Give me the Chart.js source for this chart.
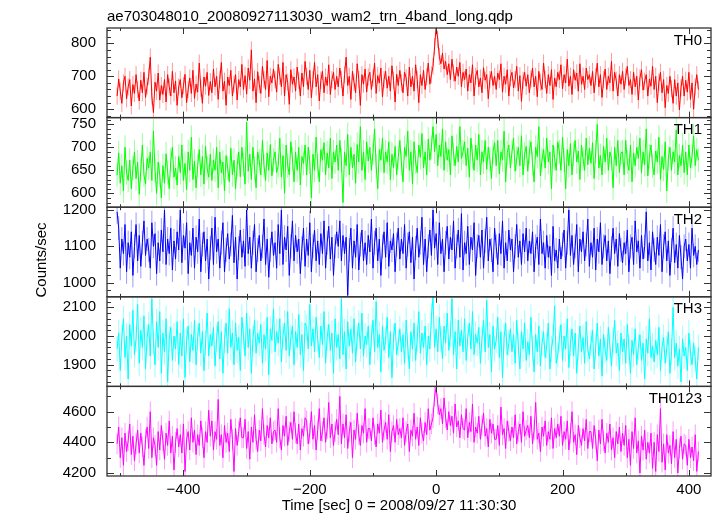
<!DOCTYPE html>
<html>
<head>
<meta charset="utf-8">
<script src="https://cdn.jsdelivr.net/npm/chart.js@4.4.1/dist/chart.umd.min.js"></script>
<style>
  html, body { margin: 0; padding: 0; background: #fff; }
  #wrap { width: 717px; height: 516px; position: relative; }
</style>
</head>
<body>
<div id="wrap"><canvas id="lc"></canvas></div>
<script>
// QDP-style 4-band light curve, stacked panels sharing one time axis

const fileTitle = "ae703048010_20080927113030_wam2_trn_4band_long.qdp";
const xTitle = "Time [sec] 0 = 2008/09/27 11:30:30";
const yTitle = "Counts/sec";

const panelNames = ["TH0", "TH1", "TH2", "TH3", "TH0123"];
const panelColors = ["#ff0000", "#00ff00", "#0000ff", "#00ffff", "#ff00ff"];
const errColors = ["rgba(255,0,0,0.4)", "rgba(0,255,0,0.4)", "rgba(0,0,255,0.4)",
                   "rgba(0,255,255,0.4)", "rgba(255,0,255,0.4)"];

// time bins (sec), start and width
const binStart = -505;
const binWidth = 2.5;

// counts/sec per bin (one row = 50 s)
const th0 = [
  640, 692, 655, 618, 680, 700, 632, 668, 690, 610, 675, 648, 705, 660, 625, 688, 650, 712, 636, 670,
  700, 758, 640, 590, 682, 655, 710, 628, 672, 645, 690, 622, 705, 668, 640, 715, 650, 686, 612, 668,
  690, 635, 672, 706, 620, 660, 695, 648, 718, 633, 676, 652, 740, 664, 618, 698, 670, 712, 642, 684,
  650, 722, 668, 700, 630, 690, 742, 655, 685, 612, 698, 672, 718, 640, 676, 705, 628, 690, 668, 736,
  660, 702, 646, 725, 688, 780, 655, 692, 620, 714, 675, 648, 730, 690, 660, 748, 638, 700, 680, 722,
  690, 652, 736, 700, 668, 742, 640, 705, 682, 615, 720, 676, 698, 655, 728, 688, 640, 710, 668, 745,
  700, 660, 718, 635, 690, 742, 668, 705, 625, 688, 715, 650, 698, 672, 735, 645, 690, 712, 660, 700,
  668, 725, 690, 640, 705, 758, 672, 700, 630, 715, 682, 650, 738, 690, 612, 705, 676, 722, 652, 698,
  712, 660, 695, 740, 648, 702, 680, 725, 638, 690, 715, 664, 700, 655, 732, 688, 622, 706, 672, 718,
  680, 650, 712, 695, 640, 728, 668, 700, 655, 735, 690, 620, 705, 672, 718, 660, 698, 740, 676, 705,
  730, 790, 850, 812, 760, 738, 770, 722, 745, 705, 738, 690, 752, 710, 685, 728, 700, 742, 668, 712,
  690, 722, 655, 705, 680, 735, 640, 700, 718, 668, 695, 650, 726, 688, 705, 632, 690, 715, 672, 700,
  660, 710, 690, 738, 652, 700, 676, 720, 640, 695, 712, 665, 690, 730, 655, 702, 624, 688, 712, 670,
  705, 650, 692, 725, 668, 700, 638, 715, 682, 660, 740, 690, 648, 705, 672, 720, 630, 695, 668, 712,
  690, 735, 662, 705, 680, 752, 670, 700, 645, 720, 688, 710, 655, 738, 676, 700, 660, 725, 690, 705,
  672, 715, 650, 698, 740, 668, 705, 636, 690, 722, 660, 700, 680, 745, 655, 712, 688, 640, 705, 676,
  715, 660, 698, 730, 672, 690, 645, 712, 668, 700, 628, 695, 720, 658, 685, 705, 640, 692, 670, 730,
  660, 700, 620, 682, 712, 650, 690, 605, 672, 648, 700, 662, 618, 690, 640, 680, 598, 665, 700, 640,
  688, 652, 712, 630, 680, 600, 668, 705, 660
];
const th1 = [
  640, 688, 622, 660, 605, 700, 645, 628, 672, 610, 655, 690, 632, 668, 598, 650, 705, 640, 620, 676,
  655, 690, 628, 735, 650, 600, 668, 640, 590, 660, 622, 686, 645, 610, 672, 700, 635, 655, 618, 680,
  645, 705, 628, 665, 608, 690, 650, 722, 630, 670, 612, 660, 695, 640, 680, 620, 702, 655, 635, 685,
  628, 672, 650, 700, 612, 690, 645, 668, 605, 682, 655, 625, 698, 640, 672, 610, 660, 690, 636, 700,
  662, 620, 755, 648, 685, 630, 700, 655, 612, 690, 670, 640, 715, 660, 628, 688, 650, 706, 638, 672,
  690, 645, 660, 720, 635, 682, 600, 705, 660, 640, 712, 675, 625, 690, 650, 700, 618, 680, 665, 705,
  640, 700, 668, 590, 685, 650, 722, 660, 625, 695, 672, 710, 640, 688, 655, 720, 632, 690, 668, 705,
  650, 715, 672, 580, 690, 660, 728, 640, 700, 655, 685, 622, 706, 668, 745, 650, 690, 630, 712, 670,
  700, 650, 688, 740, 660, 610, 695, 672, 720, 645, 690, 668, 712, 630, 685, 655, 702, 640, 678, 715,
  665, 625, 700, 680, 735, 650, 690, 620, 712, 668, 645, 705, 678, 730, 655, 690, 640, 718, 672, 700,
  745, 690, 728, 660, 705, 680, 740, 650, 712, 672, 695, 640, 725, 685, 660, 702, 668, 745, 676, 690,
  712, 660, 698, 635, 720, 680, 650, 705, 672, 728, 640, 690, 668, 715, 652, 700, 675, 632, 690, 710,
  660, 715, 642, 690, 672, 735, 625, 688, 705, 655, 690, 720, 648, 676, 700, 660, 725, 640, 685, 702,
  648, 690, 712, 665, 625, 700, 680, 745, 638, 672, 695, 655, 720, 668, 690, 610, 705, 676, 650, 712,
  690, 650, 722, 672, 610, 695, 660, 708, 640, 685, 715, 668, 692, 630, 705, 675, 650, 720, 662, 698,
  665, 710, 632, 690, 750, 655, 682, 640, 702, 668, 720, 650, 690, 676, 612, 700, 660, 715, 645, 688,
  690, 640, 715, 668, 650, 705, 625, 688, 660, 700, 676, 720, 645, 690, 662, 740, 638, 680, 705, 660,
  640, 692, 668, 722, 630, 680, 652, 712, 605, 676, 700, 650, 690, 668, 738, 640, 682, 660, 705, 645,
  690, 640, 705, 655, 680, 725, 660, 695, 672
];
const th2 = [
  1195, 1150, 1040, 1120, 1080, 1160, 1030, 1110, 1070, 1140, 1020, 1100, 1160, 1060, 1130, 1045, 1110, 1170, 1075, 1120,
  1090, 1040, 1165, 1100, 1135, 1025, 1110, 1060, 1145, 1085, 1200, 1050, 1120, 1080, 1150, 1035, 1115, 1065, 1140, 1090,
  1200, 1055, 1130, 1095, 1165, 1025, 1110, 1075, 1150, 1040, 1125, 1085, 1175, 1030, 1105, 1140, 1060, 1120, 1010, 1095,
  1150, 1050, 1180, 1085, 1120, 1040, 1110, 1165, 1030, 1090, 1135, 1065, 1105, 1185, 1055, 1125, 1010, 1095, 1145, 1070,
  1115, 1045, 1200, 1080, 1125, 1040, 1110, 1160, 1030, 1090, 1130, 1060, 1100, 1175, 1050, 1120, 1015, 1090, 1140, 1075,
  1110, 1040, 1160, 1080, 1200, 1050, 1125, 1090, 1155, 1020, 1100, 1170, 1060, 1130, 1085, 1120, 1025, 1095, 1150, 1045,
  1120, 1075, 1165, 1030, 1100, 1145, 1060, 1115, 1050, 1135, 1080, 1170, 1040, 1110, 1155, 1065, 1125, 1020, 1100, 1140,
  1100, 1170, 1060, 1130, 1080, 1125, 965, 1090, 1150, 1040, 1115, 1070, 1160, 1035, 1105, 1145, 1060, 1110, 1050, 1130,
  1085, 1175, 1040, 1110, 1150, 1060, 1120, 1020, 1100, 1140, 1070, 1165, 1045, 1115, 1090, 1135, 1030, 1105, 1150, 1065,
  1120, 1080, 1160, 1040, 1105, 1140, 1055, 1125, 1010, 1095, 1150, 1070, 1110, 1180, 1050, 1120, 1030, 1100, 1145, 1075,
  1200, 1095, 1135, 1050, 1165, 1080, 1120, 1030, 1110, 1155, 1065, 1125, 1090, 1170, 1040, 1100, 1145, 1070, 1190, 1035,
  1110, 1080, 1155, 1050, 1125, 1090, 1165, 1020, 1100, 1130, 1070, 1145, 1040, 1115, 1180, 1060, 1120, 1090, 1030, 1150,
  1100, 1050, 1135, 1080, 1170, 1040, 1110, 1060, 1145, 1090, 1120, 1030, 1100, 1160, 1070, 1115, 1050, 1135, 1085, 1150,
  1060, 1115, 1080, 1140, 1030, 1100, 1125, 1050, 1175, 1080, 1110, 1040, 1130, 1070, 1100, 1020, 1155, 1060, 1090, 1040,
  1120, 1065, 1105, 1145, 1040, 1110, 1200, 1075, 1130, 1050, 1100, 1160, 1030, 1120, 1085, 1140, 1060, 1105, 1175, 1045,
  1110, 1070, 1150, 1035, 1120, 1085, 1165, 1050, 1100, 1130, 1060, 1115, 1025, 1095, 1150, 1080, 1120, 1045, 1135, 1090,
  1055, 1110, 1080, 1145, 1030, 1100, 1125, 1050, 1170, 1085, 1115, 1040, 1130, 1065, 1100, 1195, 1060, 1110, 1035, 1140,
  1090, 1050, 1125, 1075, 1160, 1030, 1100, 1140, 1060, 1115, 1020, 1090, 1150, 1055, 1105, 1040, 1130, 1070, 1010, 1100,
  1120, 1060, 1105, 1040, 1150, 1075, 1100, 1050, 1090
];
const th3 = [
  1955, 2010, 1880, 1995, 2060, 1925, 2000, 1850, 2040, 1965, 2090, 1935, 1990, 2110, 1905, 2020, 1960, 2070, 1885, 1995,
  2040, 1930, 2130, 1980, 1900, 2050, 1960, 2085, 1870, 2010, 1945, 2060, 1840, 1990, 2030, 1915, 2000, 1955, 2050, 1900,
  2010, 1930, 2060, 1855, 1985, 2035, 1910, 2005, 1950, 2055, 1900, 1995, 2045, 1940, 2015, 1880, 1975, 2080, 1930, 2005,
  1965, 2030, 1895, 1990, 2050, 1920, 2015, 1870, 1985, 2045, 1940, 2095, 1960, 2010, 1900, 2045, 1950, 1995, 1880, 2065,
  2000, 1930, 2080, 1960, 2025, 1870, 1990, 2055, 1940, 2010, 1975, 2040, 1905, 2005, 1955, 2065, 1865, 2025, 1985, 2095,
  1945, 2015, 1975, 2060, 1910, 2000, 2045, 1950, 2085, 1930, 1995, 2035, 1900, 2015, 1960, 2075, 1935, 2005, 1880, 2045,
  2030, 1955, 2110, 1965, 2025, 1945, 2065, 1990, 1925, 2035, 1970, 2085, 1905, 1995, 2040, 1950, 2010, 1870, 2060, 1960,
  2005, 1920, 2130, 1935, 2015, 1885, 2050, 1965, 2025, 1940, 2060, 1910, 1995, 2045, 1955, 2080, 1930, 2000, 1970, 2035,
  1900, 1995, 2055, 1945, 2120, 1960, 2005, 1875, 2035, 1950, 1985, 2065, 1925, 2015, 1855, 1995, 2045, 1935, 1975, 2025,
  1945, 2005, 1905, 2055, 1965, 1885, 2015, 1955, 2045, 1915, 1990, 2085, 1940, 2010, 1960, 2035, 1900, 2000, 1955, 2070,
  2135, 1960, 2025, 1945, 2065, 1990, 1920, 2035, 1975, 2080, 1950, 2005, 2130, 1935, 2015, 1885, 2055, 1965, 2020, 1945,
  2060, 1915, 1995, 2045, 1955, 2085, 1935, 2005, 1975, 2030, 1905, 1990, 2055, 1945, 2125, 1960, 2005, 1875, 2035, 1955,
  1985, 2065, 1925, 2015, 1855, 1995, 2045, 1935, 1975, 2025, 1945, 2005, 1905, 2055, 1965, 1885, 2015, 1955, 2045, 1915,
  1980, 1935, 2065, 1955, 1875, 2005, 1945, 2035, 1895, 1975, 2015, 1925, 1965, 2045, 1885, 1955, 1995, 2105, 1905, 1935,
  1990, 2040, 1915, 2000, 1955, 2060, 1890, 1975, 2025, 1930, 2010, 1870, 1960, 2035, 1945, 1995, 1905, 2050, 1955, 1920,
  1975, 2020, 1885, 1960, 2045, 1930, 1990, 1860, 2005, 1950, 1915, 2030, 1965, 1895, 1985, 2055, 1940, 1975, 1880, 2010,
  1945, 1990, 1905, 2040, 1960, 1870, 1985, 1935, 2025, 1900, 1960, 2005, 1915, 1975, 1850, 1990, 1940, 2060, 1925, 1965,
  1910, 1985, 1935, 2030, 1880, 1960, 1995, 1905, 1955, 2015, 1870, 1945, 2100, 1925, 1975, 1895, 1955, 1840, 1990, 1930,
  1960, 1880, 2010, 1940, 1900, 1975, 1920, 1850, 1960
];
const th0123 = [
  4390, 4500, 4300, 4430, 4250, 4460, 4340, 4410, 4520, 4320, 4440, 4280, 4390, 4480, 4330, 4460, 4370, 4250, 4420, 4500,
  4360, 4600, 4300, 4430, 4380, 4250, 4470, 4350, 4510, 4410, 4290, 4460, 4380, 4540, 4330, 4440, 4220, 4400, 4490, 4370,
  4450, 4330, 4520, 4210, 4420, 4470, 4350, 4560, 4400, 4480, 4320, 4450, 4380, 4540, 4430, 4300, 4470, 4400, 4610, 4440,
  4540, 4350, 4470, 4420, 4680, 4380, 4450, 4300, 4510, 4400, 4460, 4340, 4550, 4420, 4210, 4490, 4380, 4470, 4560, 4430,
  4430, 4550, 4360, 4470, 4290, 4500, 4400, 4580, 4420, 4340, 4480, 4410, 4620, 4450, 4370, 4510, 4430, 4560, 4390, 4470,
  4480, 4400, 4620, 4430, 4350, 4510, 4440, 4570, 4380, 4470, 4530, 4420, 4600, 4460, 4390, 4520, 4350, 4490, 4440, 4560,
  4540, 4390, 4460, 4600, 4420, 4510, 4350, 4480, 4620, 4410, 4470, 4560, 4400, 4490, 4660, 4430, 4520, 4380, 4470, 4550,
  4450, 4700, 4390, 4520, 4430, 4580, 4360, 4470, 4530, 4300, 4480, 4420, 4590, 4450, 4380, 4510, 4460, 4620, 4400, 4490,
  4490, 4410, 4560, 4450, 4370, 4520, 4460, 4610, 4400, 4480, 4530, 4420, 4580, 4340, 4470, 4510, 4400, 4550, 4450, 4490,
  4430, 4560, 4380, 4470, 4520, 4340, 4480, 4440, 4590, 4420, 4500, 4380, 4560, 4460, 4410, 4530, 4450, 4620, 4480, 4520,
  4560, 4700, 4760, 4650, 4580, 4620, 4520, 4690, 4560, 4480, 4600, 4510, 4570, 4460, 4650, 4500, 4540, 4430, 4580, 4490,
  4480, 4620, 4430, 4530, 4470, 4650, 4400, 4500, 4460, 4570, 4420, 4510, 4590, 4440, 4490, 4370, 4550, 4460, 4520, 4420,
  4420, 4510, 4380, 4630, 4450, 4490, 4360, 4540, 4470, 4410, 4500, 4430, 4580, 4390, 4470, 4520, 4400, 4600, 4440, 4480,
  4510, 4430, 4570, 4390, 4480, 4660, 4420, 4460, 4340, 4500, 4440, 4540, 4380, 4470, 4420, 4560, 4360, 4490, 4430, 4520,
  4440, 4570, 4380, 4470, 4420, 4540, 4350, 4460, 4600, 4400, 4450, 4320, 4510, 4430, 4380, 4490, 4410, 4550, 4360, 4470,
  4470, 4360, 4510, 4420, 4280, 4480, 4390, 4550, 4410, 4330, 4460, 4400, 4520, 4350, 4430, 4300, 4470, 4390, 4500, 4340,
  4460, 4380, 4510, 4300, 4420, 4250, 4470, 4360, 4560, 4330, 4410, 4200, 4440, 4350, 4480, 4290, 4400, 4330, 4460, 4230,
  4400, 4210, 4450, 4340, 4620, 4270, 4390, 4220, 4450, 4330, 4380, 4260, 4470, 4300, 4420, 4200, 4360, 4440, 4290, 4390,
  4380, 4250, 4420, 4300, 4370, 4280, 4450, 4210, 4340
];
const panelSeries = [th0, th1, th2, th3, th0123];

// 1-sigma error per panel (counts/sec)
const panelErrors = [26, 26, 33, 45, 67];

// axis ranges and tick marks
const xMin = -521;
const xMax = 435;
const xLabelTicks = [-400, -200, 0, 200, 400];
const xTickStep = 100;
const yMin = [574.8, 569.8, 961.2, 1824.4, 4180.4];
const yMax = [846.4, 764.6, 1207.7, 2136.6, 4765];
const yTicks = [
  [600, 700, 800],
  [600, 650, 700, 750],
  [1000, 1100, 1200],
  [1900, 2000, 2100],
  [4200, 4400, 4600],
];
const yMinorStep = [20, 10, 20, 20, 100];

const FONT = "'Liberation Sans', Arial, Helvetica, sans-serif";
const INK = "#000";
const FRAME = "#333";

const datasets = panelSeries.map((vals, i) => ({
  label: panelNames[i],
  data: vals.map((v, k) => ({ x: binStart + k * binWidth, y: v })),
  yAxisID: "y" + i,
  borderColor: panelColors[i],
  borderWidth: 1,
  pointRadius: 0,
  fill: false,
  tension: 0,
}));

const scales = {
  x: {
    type: "linear",
    min: xMin,
    max: xMax,
    grid: { display: false, drawTicks: false },
    border: { display: false },
    afterBuildTicks: (s) => { s.ticks = xLabelTicks.map((v) => ({ value: v })); },
    afterFit: (s) => { s.height = 40; },
    ticks: {
      color: INK,
      padding: 5,
      font: { family: FONT, size: 15 },
      maxRotation: 0,
      autoSkip: false,
      callback: (v) => (v < 0 ? "\u2212" + Math.abs(v) : String(v)),
    },
  },
};
panelNames.forEach((name, i) => {
  scales["y" + i] = {
    type: "linear",
    position: "left",
    stack: "panels",
    stackWeight: 1,
    weight: 10 - i,
    min: yMin[i],
    max: yMax[i],
    offset: false,
    grid: { display: false, drawTicks: false },
    border: { display: false },
    afterBuildTicks: (s) => { s.ticks = yTicks[i].map((v) => ({ value: v })); },
    afterFit: (s) => { s.width = 107; },
    ticks: {
      color: INK,
      padding: 11,
      autoSkip: false,
      font: { family: FONT, size: 15 },
      callback: (v) => String(v),
    },
  };
});

function drawTick(ctx, x1, y1, x2, y2) {
  ctx.moveTo(x1, y1);
  ctx.lineTo(x2, y2);
}

const qdpPlugin = {
  id: "qdpPanels",
  beforeDatasetsDraw(chart) {
    const { ctx } = chart;
    const xs = chart.scales.x;
    chart.data.datasets.forEach((ds, i) => {
      const ys = chart.scales["y" + i];
      const err = panelErrors[i];
      ctx.save();
      ctx.beginPath();
      ctx.rect(xs.left, ys.top, xs.width, ys.height);
      ctx.clip();
      ctx.strokeStyle = errColors[i];
      ctx.lineWidth = 1;
      ctx.beginPath();
      ds.data.forEach((p) => {
        const px = xs.getPixelForValue(p.x);
        ctx.moveTo(px, ys.getPixelForValue(p.y - err));
        ctx.lineTo(px, ys.getPixelForValue(p.y + err));
      });
      ctx.stroke();
      ctx.restore();
    });
  },
  afterDatasetsDraw(chart) {
    const { ctx } = chart;
    const xs = chart.scales.x;
    ctx.save();
    ctx.strokeStyle = FRAME;
    ctx.lineWidth = 1;
    ctx.beginPath();
    panelNames.forEach((name, i) => {
      const ys = chart.scales["y" + i];
      const top = ys.top, bot = ys.bottom;
      // y ticks, left and right, pointing inward
      const step = yMinorStep[i];
      for (let v = Math.ceil(yMin[i] / step) * step; v <= yMax[i]; v += step) {
        const py = Math.round(ys.getPixelForValue(v)) + 0.5;
        const len = yTicks[i].includes(v) ? 7 : 4;
        drawTick(ctx, xs.left, py, xs.left + len, py);
        drawTick(ctx, xs.right, py, xs.right - len, py);
      }
      // time ticks, top and bottom of each panel
      for (let t = Math.ceil(xMin / xTickStep) * xTickStep; t <= xMax; t += xTickStep) {
        const px = Math.round(xs.getPixelForValue(t)) + 0.5;
        const len = t % 200 === 0 ? 6 : 3;
        drawTick(ctx, px, top, px, top + len);
        drawTick(ctx, px, bot, px, bot - len);
      }
    });
    ctx.stroke();

    // panel frames
    ctx.lineWidth = 1.3;
    panelNames.forEach((name, i) => {
      const ys = chart.scales["y" + i];
      ctx.strokeRect(xs.left, ys.top, xs.right - xs.left, ys.bottom - ys.top);
    });

    // band labels
    ctx.fillStyle = INK;
    ctx.font = "15px " + FONT;
    ctx.textAlign = "right";
    ctx.textBaseline = "alphabetic";
    panelNames.forEach((name, i) => {
      const ys = chart.scales["y" + i];
      ctx.fillText(name, xs.right - 9, ys.top + 16.5);
    });

    // file title
    ctx.textAlign = "left";
    ctx.fillText(fileTitle, xs.left, 20.5);

    // x title
    ctx.textAlign = "center";
    ctx.fillText(xTitle, 399, 509.5);

    // y title
    ctx.translate(46, 260);
    ctx.rotate(-Math.PI / 2);
    ctx.fillText(yTitle, 0, 0);
    ctx.restore();
  },
};

new Chart(document.getElementById("lc"), {
  type: "line",
  data: { datasets },
  options: {
    responsive: true,
    maintainAspectRatio: false,
    animation: false,
    events: [],
    layout: { padding: { top: 28, right: 6, left: 0, bottom: 0 } },
    plugins: {
      legend: { display: false },
      title: { display: false },
      tooltip: { enabled: false },
    },
    scales,
  },
  plugins: [qdpPlugin],
});
</script>
</body>
</html>
